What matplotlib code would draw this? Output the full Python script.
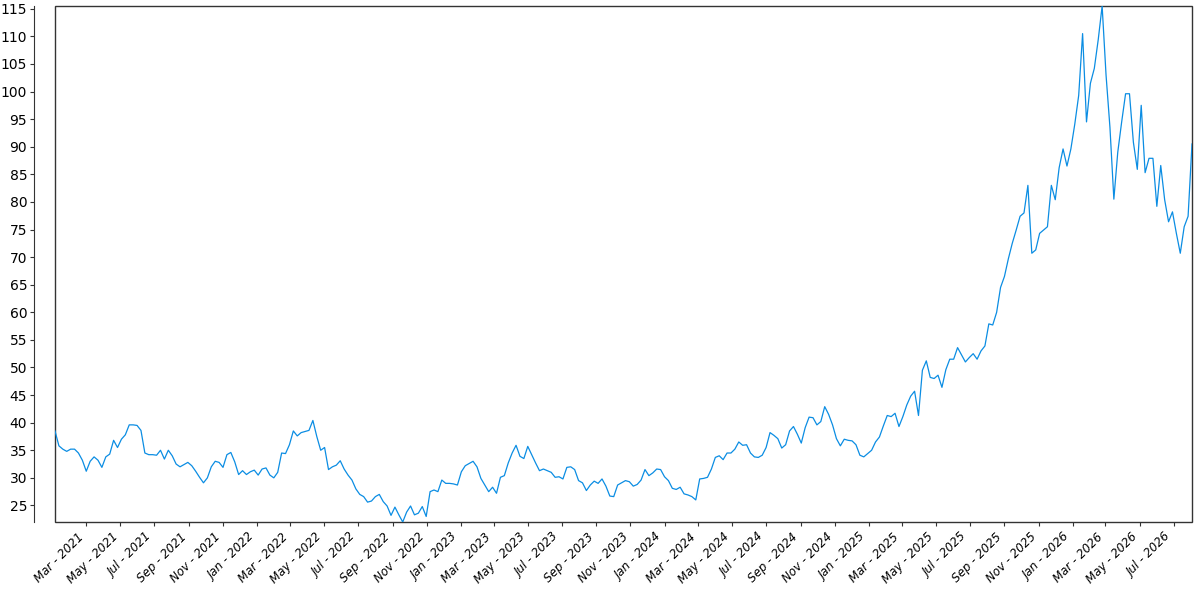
import numpy as np
import pandas as pd
import matplotlib
matplotlib.use("Agg")
import matplotlib.pyplot as plt
import matplotlib.dates as mdates
from matplotlib.patches import Rectangle

# weekly closes, starting first week of Jan 2021
start_date = "2021-01-04"

prices_2021_2022 = [
    38.5, 35.8, 35.2, 34.8, 35.2, 35.2, 34.5, 33.2, 31.2, 33.0,
    33.8, 33.2, 31.9, 33.8, 34.3, 36.8, 35.5, 37.0, 37.8, 39.6,
    39.6, 39.5, 38.6, 34.5, 34.2, 34.2, 34.1, 35.0, 33.4, 35.0,
    34.0, 32.5, 32.0, 32.4, 32.8, 32.2, 31.2, 30.1, 29.1, 30.0,
    32.0, 33.0, 32.8, 31.9, 34.2, 34.6, 32.9, 30.6, 31.3, 30.6,
    31.1, 31.4, 30.5, 31.6, 31.8, 30.5, 30.0, 31.0, 34.5, 34.4,
    36.0, 38.5, 37.6, 38.2, 38.4, 38.6, 40.4, 37.5, 35.0, 35.5,
    31.5, 32.0, 32.3, 33.1, 31.6, 30.5, 29.6, 28.0, 27.0, 26.6,
    25.6, 25.8, 26.6, 27.0, 25.7, 24.9, 23.2, 24.7, 23.3, 22.0,
    23.8, 24.9, 23.3, 23.6,
]

prices_2023_2024 = [
    24.8, 23.0, 27.5, 27.8, 27.5, 29.6, 29.0, 29.0, 28.9, 28.7,
    31.1, 32.2, 32.6, 33.0, 32.0, 29.9, 28.7, 27.5, 28.3, 27.2,
    30.1, 30.4, 32.7, 34.5, 35.9, 33.9, 33.5, 35.7, 34.2, 32.7,
    31.3, 31.6, 31.3, 31.0, 30.1, 30.2, 29.8, 31.9, 32.0, 31.5,
    29.5, 29.1, 27.7, 28.7, 29.4, 29.0, 29.8, 28.5, 26.7, 26.6,
    28.7, 29.1, 29.5, 29.3, 28.5, 28.8, 29.6, 31.5, 30.4, 30.9,
    31.6, 31.5, 30.2, 29.5, 28.1, 27.9, 28.3, 27.1, 26.9, 26.6,
    26.0, 29.8, 29.9, 30.1, 31.6, 33.7, 34.0, 33.3, 34.5, 34.5,
    35.2, 36.5, 35.9, 36.0, 34.5, 33.8, 33.7, 34.1, 35.5, 38.2,
    37.7, 37.1, 35.4, 36.0, 38.5, 39.3, 37.9, 36.3, 39.1, 41.0,
    40.9, 39.6,
]

prices_2025_2026 = [
    40.2, 42.9, 41.5, 39.6, 37.1, 35.8, 37.0, 36.8, 36.7, 36.0,
    34.1, 33.8, 34.4, 35.0, 36.5, 37.4, 39.4, 41.3, 41.1, 41.7,
    39.3, 41.1, 43.2, 44.8, 45.7, 41.3, 49.5, 51.2, 48.2, 48.0,
    48.6, 46.4, 49.6, 51.5, 51.5, 53.6, 52.3, 51.0, 51.8, 52.5,
    51.5, 53.0, 53.9, 57.9, 57.7, 60.0, 64.5, 66.5, 69.7, 72.5,
    74.9, 77.4, 78.0, 83.0, 70.7, 71.3, 74.3, 74.9, 75.5, 83.0,
    80.4, 86.2, 89.6, 86.5, 89.6, 94.1, 99.3, 110.5, 94.5, 101.5,
    104.2, 109.4, 115.5, 103.0, 93.5, 80.5, 89.0, 94.5, 99.6, 99.6,
    90.8, 85.9, 97.5, 85.3, 87.9, 87.9, 79.2, 86.6, 80.4, 76.4,
    78.2, 74.3, 70.7, 75.5, 77.4, 90.5,
]

prices = prices_2021_2022 + prices_2023_2024 + prices_2025_2026
dates = pd.date_range(start_date, periods=len(prices), freq="7D")
y_ticks = list(range(25, 116, 5))

line_color = "#0b8de3"
frame_color = "#333333"

fig = plt.figure(figsize=(12, 6), dpi=100)
ax = fig.add_axes([55 / 1200, 1 - 522 / 600, (1192 - 55) / 1200, (522 - 6) / 600])

ax.plot(dates, prices, color=line_color, lw=0.9)

ax.set_xlim(dates[0], dates[-1])
ax.set_ylim(min(prices), max(prices))

ax.xaxis.set_major_locator(mdates.MonthLocator(bymonth=[1, 3, 5, 7, 9, 11]))
ax.xaxis.set_major_formatter(mdates.DateFormatter("%b - %Y"))
ax.set_yticks(y_ticks, labels=[str(t) for t in y_ticks],
              fontsize=8.5, fontstyle="italic")

plt.setp(ax.get_xticklabels(), rotation=45, ha="right",
         fontsize=8.5, fontstyle="italic")

ax.tick_params(axis="x", length=3, width=0.8, pad=3, colors=frame_color, labelcolor="black")
ax.tick_params(axis="y", length=3, width=0.8, pad=2, colors=frame_color, labelcolor="black")

# y axis sits a little off the plot box
ax.spines["left"].set_position(("outward", 15))
for side in ["top", "right", "bottom"]:
    ax.spines[side].set_visible(False)
ax.spines["left"].set_color(frame_color)
ax.add_patch(Rectangle((0, 0), 1, 1, transform=ax.transAxes, fill=False,
                       edgecolor=frame_color, lw=1, clip_on=False))

fig.savefig("out.png", dpi=100)
